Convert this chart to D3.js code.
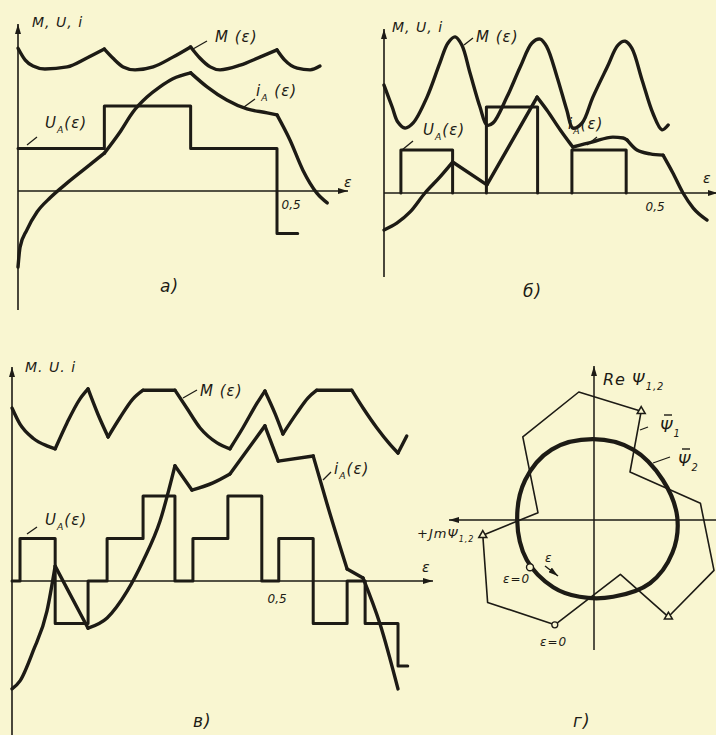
<!DOCTYPE html>
<html>
<head>
<meta charset="utf-8">
<script src="https://cdn.jsdelivr.net/npm/d3@7"></script>
<style>
body { margin: 0; background: #f9f6d1; }
svg { display: block; }
text { font-family: "DejaVu Sans", sans-serif; font-style: italic; fill: #1d1b15; }
</style>
</head>
<body>
<script>
// ---- panel a) ----
var uStepsA = [[0, 1], [0.1667, 2], [0.3333, 1], [0.5, -1], [0.54, -1]];
var mA = [
  [[0, 3.36], [0.014, 3.08], [0.029, 2.94], [0.052, 2.87], [0.095, 2.92], [0.133, 3.13], [0.1667, 3.34]],
  [[0.1667, 3.34], [0.183, 3.13], [0.203, 2.92], [0.226, 2.85], [0.261, 2.92], [0.299, 3.15], [0.3333, 3.39]],
  [[0.3333, 3.39], [0.351, 3.13], [0.371, 2.92], [0.39, 2.85], [0.429, 2.96], [0.467, 3.15], [0.5, 3.32]],
  [[0.5, 3.32], [0.515, 3.08], [0.539, 2.89], [0.564, 2.85], [0.583, 2.94]]
];
var iA = [
  [[0, -1.79], [0.004, -1.32], [0.017, -0.92], [0.037, -0.49], [0.062, -0.16], [0.095, 0.19], [0.133, 0.56], [0.1667, 0.89]],
  [[0.1667, 0.89], [0.197, 1.39], [0.222, 1.86], [0.249, 2.21], [0.274, 2.45], [0.299, 2.64], [0.3333, 2.78]],
  [[0.3333, 2.78], [0.365, 2.45], [0.403, 2.14], [0.442, 1.93], [0.481, 1.84], [0.5, 1.79]],
  [[0.5, 1.79], [0.525, 1.2], [0.55, 0.49], [0.577, -0.05], [0.597, -0.28]]
];

// ---- panel b) ----
var uPulsesB = [[0.033, 0.134, 1], [0.2, 0.3, 2], [0.367, 0.473, 1]];
var mB = [[0, 2.51], [0.016, 2.0], [0.027, 1.65], [0.041, 1.51], [0.057, 1.63], [0.084, 2.23], [0.109, 3.02],
  [0.125, 3.49], [0.139, 3.63], [0.152, 3.44], [0.168, 2.79], [0.1875, 2.0], [0.201, 1.58], [0.213, 1.63],
  [0.24, 2.23], [0.266, 2.93], [0.289, 3.49], [0.305, 3.58], [0.318, 3.4], [0.338, 2.7], [0.357, 1.93],
  [0.369, 1.51], [0.387, 1.63], [0.408, 2.23], [0.436, 2.93], [0.457, 3.44], [0.471, 3.53], [0.484, 3.37],
  [0.504, 2.63], [0.525, 1.86], [0.543, 1.47], [0.555, 1.58]];
var iB = [
  [[0, -0.86], [0.025, -0.7], [0.051, -0.44], [0.08, 0], [0.109, 0.37], [0.134, 0.72]],
  [[0.134, 0.72], [0.201, 0.19]],
  [[0.201, 0.19], [0.299, 2.23]],
  [[0.299, 2.23], [0.318, 1.93], [0.344, 1.47], [0.363, 1.16], [0.369, 1.07]],
  [[0.369, 1.07], [0.408, 1.19], [0.447, 1.3], [0.467, 1.28], [0.475, 1.23]],
  [[0.475, 1.23], [0.494, 1.0], [0.52, 0.91], [0.545, 0.88]],
  [[0.545, 0.88], [0.564, 0.47], [0.584, 0], [0.604, -0.35], [0.631, -0.63]]
];

// ---- panel c) ----
var uStepsC = [[0, 0], [0.0156, 1], [0.084, -1], [0.148, 0], [0.185, 1], [0.255, 2], [0.317, 0], [0.352, 1],
  [0.42, 2], [0.486, 0], [0.519, 1], [0.586, -1], [0.652, 0], [0.687, -1], [0.751, -2], [0.77, -2]];
var mC = [
  [[0, 4.07], [0.0156, 3.69], [0.041, 3.36], [0.068, 3.18], [0.084, 3.11]],
  [[0.084, 3.11], [0.107, 3.72], [0.132, 4.28], [0.148, 4.52]],
  [[0.148, 4.52], [0.167, 3.93], [0.187, 3.39]],
  [[0.187, 3.39], [0.21, 3.84], [0.235, 4.28], [0.255, 4.49]],
  [[0.255, 4.49], [0.317, 4.49]],
  [[0.317, 4.49], [0.34, 4.07], [0.366, 3.6], [0.399, 3.25], [0.424, 3.11]],
  [[0.424, 3.11], [0.449, 3.6], [0.477, 4.19], [0.492, 4.47]],
  [[0.492, 4.47], [0.512, 3.93], [0.527, 3.46]],
  [[0.527, 3.46], [0.554, 3.95], [0.576, 4.31], [0.593, 4.49]],
  [[0.593, 4.49], [0.661, 4.49]],
  [[0.661, 4.49], [0.683, 4.07], [0.71, 3.6], [0.735, 3.22], [0.751, 3.01]],
  [[0.751, 3.01], [0.768, 3.41]]
];
var iC = [
  [[0, -2.54], [0.0156, -2.35], [0.041, -1.65], [0.068, -0.71], [0.084, 0.35]],
  [[0.084, 0.35], [0.148, -1.11]],
  [[0.148, -1.11], [0.185, -0.87], [0.224, -0.24], [0.255, 0.47], [0.288, 1.41], [0.317, 2.71]],
  [[0.317, 2.71], [0.35, 2.14]],
  [[0.35, 2.14], [0.391, 2.31], [0.424, 2.52]],
  [[0.424, 2.52], [0.492, 3.65]],
  [[0.492, 3.65], [0.518, 2.82]],
  [[0.518, 2.82], [0.586, 2.94]],
  [[0.586, 2.94], [0.613, 1.81], [0.652, 0.28]],
  [[0.652, 0.28], [0.683, 0.07]],
  [[0.683, 0.07], [0.716, -1.01], [0.751, -2.54]]
];

// ---- panel d) : [Im, Re] ----
var psi1 = [[0.49, -1.31], [1.33, -1.03], [1.39, -0.19], [0.7, 0.09], [0.89, 1.04], [0.19, 1.6], [-0.59, 1.36],
  [-0.45, 0.6], [-1.33, 0.21], [-1.5, -0.63], [-0.93, -1.21], [-0.33, -0.68]];
var psi1Marks = [2, 6, 10];
var psi2 = [[0.01, 1.01], [-0.49, 0.88], [-0.86, 0.5], [-1.04, 0.04], [-0.98, -0.41], [-0.7, -0.79], [-0.24, -0.96],
  [0.18, -0.96], [0.51, -0.84], [0.84, -0.5], [0.96, 0], [0.86, 0.5], [0.53, 0.88]];
var psi2Start = [0.8, -0.59];

var ink = "#1d1b15";
var paper = "#f9f6d1";
var svg = d3.select("body").append("svg").attr("width", 716).attr("height", 735);

svg.append("defs").append("marker")
    .attr("id", "arr").attr("viewBox", "0 0 10 6").attr("refX", 10).attr("refY", 3)
    .attr("markerWidth", 10).attr("markerHeight", 6).attr("markerUnits", "userSpaceOnUse")
    .attr("orient", "auto")
  .append("path").attr("d", "M0,0 L10,3 L0,6 z").attr("fill", ink);

function seg(g, x1, y1, x2, y2, w, arrow) {
  var l = g.append("line").attr("x1", x1).attr("y1", y1).attr("x2", x2).attr("y2", y2)
    .attr("stroke", ink).attr("stroke-width", w);
  if (arrow) l.attr("marker-end", "url(#arr)");
  return l;
}

function curve(g, pts, x, y, c, w) {
  var line = d3.line()
    .x(function(d) { return x(d[0]); })
    .y(function(d) { return y(d[1]); })
    .curve(c);
  g.append("path").datum(pts).attr("d", line)
    .attr("fill", "none").attr("stroke", ink).attr("stroke-width", w)
    .attr("stroke-linejoin", "round").attr("stroke-linecap", "round");
}

// parts: [text, isSub]
function label(g, px, py, parts, size) {
  var t = g.append("text").attr("x", px).attr("y", py).style("font-size", size + "px").style("letter-spacing", "1px");
  var down = false;
  parts.forEach(function(p) {
    var s = t.append("tspan").text(p[0]);
    if (p[1] && !down) { s.attr("dy", size * 0.3).style("font-size", (size * 0.62) + "px"); down = true; }
    else if (!p[1] && down) { s.attr("dy", -size * 0.3); down = false; }
    else if (p[1]) s.style("font-size", (size * 0.62) + "px");
  });
  return t;
}

function tickHalf(g, x, y0, dx, dy) {
  var ax = d3.axisBottom(x).tickValues([0.5]).tickSize(0).tickFormat(function() { return "0,5"; });
  g.append("g").attr("transform", "translate(0," + y0 + ")").call(ax)
    .call(function(s) {
      s.select(".domain").remove();
      s.selectAll("text").attr("y", dy).attr("dy", null).attr("dx", dx)
        .attr("text-anchor", "start").attr("fill", ink)
        .style("font-size", "12px").style("font-style", "italic").style("font-family", "DejaVu Sans");
    });
}

// ===== a) =====
var xA = d3.scaleLinear().domain([0, 0.5]).range([18, 277]);
var yA = d3.scaleLinear().domain([0, 1]).range([191, 148.5]);
var gA = svg.append("g");
seg(gA, xA(0), 310, xA(0), 24, 1.6, true);
seg(gA, xA(0), yA(0), 348, yA(0), 1.6, true);
mA.forEach(function(p) { curve(gA, p, xA, yA, d3.curveMonotoneX, 3.4); });
iA.forEach(function(p) { curve(gA, p, xA, yA, d3.curveMonotoneX, 3.4); });
curve(gA, uStepsA, xA, yA, d3.curveStepAfter, 3);
tickHalf(gA, xA, yA(0), 4, 18);
label(gA, 32, 27, [["M, U, i"]], 14);
label(gA, 215, 42, [["M (ε)"]], 15);
seg(gA, 207, 41, 193, 49, 1.3);
label(gA, 256, 96, [["i"], ["A", 1], [" (ε)"]], 15);
seg(gA, 255, 99, 244, 107, 1.3);
label(gA, 45, 128, [["U"], ["A", 1], ["(ε)"]], 15);
seg(gA, 27, 145, 37, 137, 1.3);
label(gA, 344, 187, [["ε"]], 14);
label(gA, 160, 292, [["а)"]], 17);

// ===== б) =====
var xB = d3.scaleLinear().domain([0, 0.5]).range([384, 640]);
var yB = d3.scaleLinear().domain([0, 1]).range([193, 150]);
var gB = svg.append("g");
seg(gB, xB(0), 277, xB(0), 29, 1.6, true);
seg(gB, xB(0), yB(0), 718, yB(0), 1.6, true);
uPulsesB.forEach(function(p) {
  curve(gB, [[p[0], 0], [p[0], p[2]], [p[1], p[2]], [p[1], 0]], xB, yB, d3.curveLinear, 3);
});
curve(gB, mB, xB, yB, d3.curveCatmullRom.alpha(0.5), 3.4);
iB.forEach(function(p) { curve(gB, p, xB, yB, d3.curveMonotoneX, 3.4); });
tickHalf(gB, xB, yB(0), 5, 18);
label(gB, 392, 32, [["M, U, i"]], 14);
label(gB, 476, 42, [["M (ε)"]], 15);
seg(gB, 473, 38, 464, 45, 1.3);
label(gB, 423, 135, [["U"], ["A", 1], ["(ε)"]], 15);
seg(gB, 402, 150, 413, 141, 1.3);
label(gB, 568, 129, [["i"], ["A", 1], ["(ε)"]], 15);
seg(gB, 587, 145, 597, 137, 1.3);
label(gB, 703, 183, [["ε"]], 14);
label(gB, 523, 297, [["б)"]], 17);

// ===== в) =====
var xC = d3.scaleLinear().domain([0, 0.5]).range([12, 269]);
var yC = d3.scaleLinear().domain([0, 1]).range([581, 538.5]);
var gC = svg.append("g");
seg(gC, xC(0), 735, xC(0), 367, 1.6, true);
seg(gC, xC(0), yC(0), 433, yC(0), 1.6, true);
mC.forEach(function(p) { curve(gC, p, xC, yC, d3.curveMonotoneX, 3.4); });
iC.forEach(function(p) { curve(gC, p, xC, yC, d3.curveMonotoneX, 3.4); });
curve(gC, uStepsC, xC, yC, d3.curveStepAfter, 3);
tickHalf(gC, xC, yC(0), -2, 22);
label(gC, 25, 372, [["M. U. i"]], 14);
label(gC, 200, 396, [["M (ε)"]], 15);
seg(gC, 197, 390, 183, 398, 1.3);
label(gC, 334, 474, [["i"], ["A", 1], ["(ε)"]], 15);
seg(gC, 323, 480, 331, 472, 1.3);
label(gC, 45, 525, [["U"], ["A", 1], ["(ε)"]], 15);
seg(gC, 27, 534, 37, 527, 1.3);
label(gC, 422, 572, [["ε"]], 14);
label(gC, 193, 727, [["в)"]], 17);

// ===== г) =====
var xD = d3.scaleLinear().domain([0, 1]).range([594, 514]);
var yD = d3.scaleLinear().domain([0, 1]).range([520, 440]);
var gD = svg.append("g");
seg(gD, xD(0), 650, xD(0), 366, 1.5, true);
seg(gD, 716, yD(0), 449, yD(0), 1.5, true);
curve(gD, psi2, xD, yD, d3.curveCatmullRomClosed.alpha(0.5), 4.2);
curve(gD, psi1, xD, yD, d3.curveLinearClosed, 1.6);
gD.selectAll(".tri").data(psi1Marks).enter().append("path")
  .attr("d", d3.symbol(d3.symbolTriangle, 28))
  .attr("transform", function(d) { return "translate(" + xD(psi1[d][0]) + "," + yD(psi1[d][1]) + ")"; })
  .attr("fill", paper).attr("stroke", ink).attr("stroke-width", 1.5);
gD.append("circle").attr("cx", xD(psi1[0][0])).attr("cy", yD(psi1[0][1])).attr("r", 3)
  .attr("fill", paper).attr("stroke", ink).attr("stroke-width", 1.3);
gD.append("circle").attr("cx", xD(psi2Start[0])).attr("cy", yD(psi2Start[1])).attr("r", 3.5)
  .attr("fill", paper).attr("stroke", ink).attr("stroke-width", 1.4);
label(gD, 603, 385, [["Re Ψ"], ["1,2", 1]], 16);
label(gD, 660, 432, [["Ψ"], ["1", 1]], 16);
seg(gD, 664, 415, 672, 415, 1.4);
seg(gD, 640, 430, 648, 427, 1.3);
label(gD, 678, 466, [["Ψ"], ["2", 1]], 16);
seg(gD, 682, 449, 690, 449, 1.4);
seg(gD, 653, 463, 670, 457, 1.3);
label(gD, 417, 538, [["+JmΨ"], ["1,2", 1]], 13);
label(gD, 503, 583, [["ε=0"]], 12);
label(gD, 545, 562, [["ε"]], 12);
seg(gD, 545, 566, 558, 576, 1.4, true);
label(gD, 540, 646, [["ε=0"]], 12);
label(gD, 573, 727, [["г)"]], 17);
</script>
</body>
</html>
